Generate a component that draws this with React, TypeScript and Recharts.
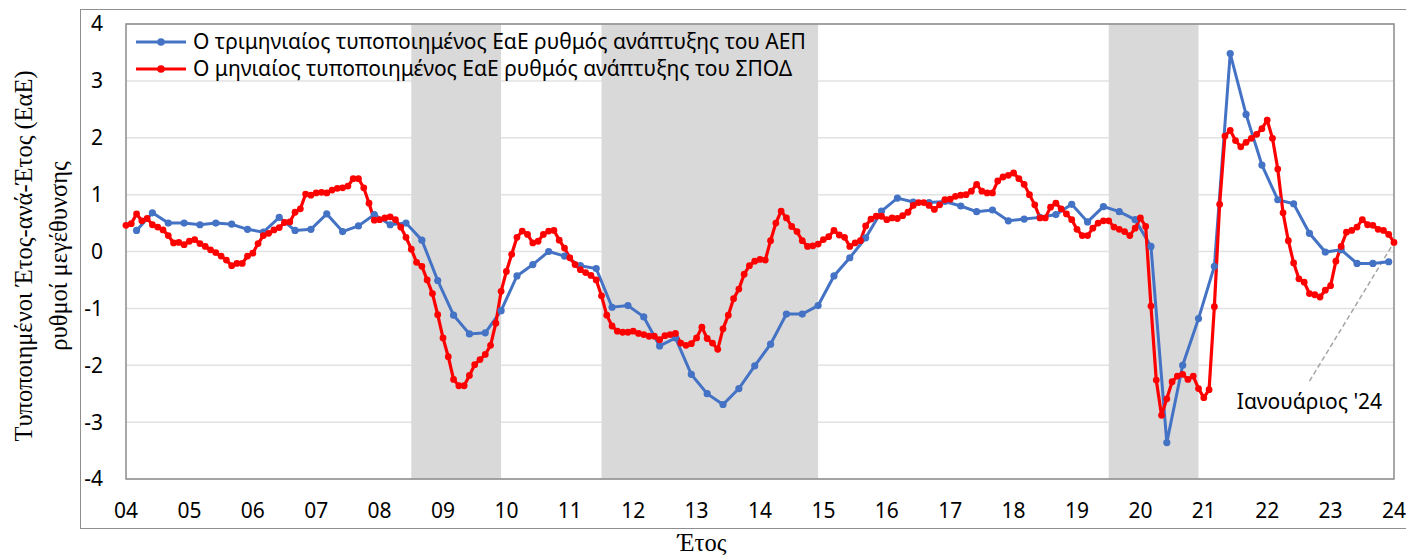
import React from 'react';
import {
  LineChart,
  Line,
  XAxis,
  YAxis,
  CartesianGrid,
  Legend,
  ReferenceArea,
  ReferenceLine,
  ReferenceDot,
} from 'recharts';

// Year labels on the x axis (Jan of each year, 2004..2024)
const yearLabels = ['04', '05', '06', '07', '08', '09', '10', '11', '12', '13', '14', '15', '16', '17', '18', '19', '20', '21', '22', '23', '24'];

// Monthly standardised YoY growth of the composite index, Jan 2004 .. Jan 2024
const monthlyGrowth = [
  0.46, 0.49, 0.66, 0.54, 0.58, 0.47, 0.43, 0.38, 0.28, 0.15, 0.16, 0.12,
  0.18, 0.21, 0.14, 0.09, 0.03, -0.02, -0.08, -0.15, -0.25, -0.21, -0.21, -0.08,
  -0.03, 0.14, 0.28, 0.32, 0.38, 0.42, 0.51, 0.52, 0.69, 0.75, 1.01, 0.99,
  1.03, 1.04, 1.03, 1.08, 1.11, 1.12, 1.15, 1.28, 1.28, 1.12, 0.85, 0.55,
  0.56, 0.59, 0.61, 0.56, 0.43, 0.25, 0.04, -0.19, -0.26, -0.5, -0.74, -1.11,
  -1.52, -1.85, -2.25, -2.36, -2.36, -2.18, -1.99, -1.9, -1.81, -1.65, -1.26, -0.7,
  -0.35, -0.05, 0.25, 0.36, 0.3, 0.15, 0.18, 0.3, 0.36, 0.37, 0.2, 0.06,
  -0.11, -0.23, -0.32, -0.37, -0.42, -0.5, -0.78, -1.12, -1.31, -1.4, -1.42, -1.42,
  -1.4, -1.44, -1.46, -1.49, -1.49, -1.55, -1.48, -1.46, -1.44, -1.61, -1.65, -1.62,
  -1.52, -1.33, -1.53, -1.61, -1.72, -1.36, -1.12, -0.83, -0.66, -0.4, -0.25, -0.17,
  -0.14, -0.15, 0.19, 0.5, 0.71, 0.59, 0.44, 0.35, 0.19, 0.09, 0.1, 0.13,
  0.21, 0.26, 0.37, 0.29, 0.25, 0.09, 0.15, 0.19, 0.45, 0.57, 0.62, 0.62,
  0.56, 0.59, 0.58, 0.63, 0.69, 0.81, 0.86, 0.86, 0.81, 0.74, 0.82, 0.91,
  0.92, 0.97, 0.99, 1.0, 1.06, 1.18, 1.06, 1.03, 1.03, 1.24, 1.31, 1.34,
  1.38, 1.28, 1.18, 1.0, 0.82, 0.59, 0.59, 0.78, 0.85, 0.75, 0.66, 0.56,
  0.39, 0.28, 0.28, 0.41, 0.5, 0.54, 0.54, 0.43, 0.39, 0.35, 0.28, 0.41,
  0.59, 0.44, -0.96, -2.26, -2.88, -2.59, -2.29, -2.19, -2.16, -2.25, -2.19, -2.41,
  -2.57, -2.43, -0.97, 0.83, 2.03, 2.13, 1.95, 1.84, 1.92, 1.99, 2.06, 2.16,
  2.31, 1.99, 1.45, 0.68, 0.19, -0.2, -0.48, -0.54, -0.74, -0.76, -0.8, -0.68,
  -0.6, -0.17, 0.09, 0.34, 0.37, 0.43, 0.56, 0.47, 0.46, 0.39, 0.37, 0.3,
  0.16,
];

// Quarterly standardised YoY GDP growth, 2004Q1 .. 2023Q4 (plotted on the quarter's last month)
const quarterlyGrowth = [
  0.37, 0.68, 0.5, 0.5, 0.47, 0.5, 0.48, 0.39, 0.34, 0.6, 0.37, 0.39,
  0.66, 0.35, 0.45, 0.65, 0.47, 0.5, 0.2, -0.51, -1.12, -1.45, -1.43, -1.04,
  -0.43, -0.23, 0.0, -0.08, -0.25, -0.3, -0.98, -0.95, -1.15, -1.66, -1.52, -2.16,
  -2.5, -2.69, -2.41, -2.01, -1.63, -1.1, -1.1, -0.95, -0.43, -0.11, 0.24, 0.71,
  0.94, 0.87, 0.86, 0.88, 0.8, 0.7, 0.73, 0.54, 0.57, 0.6, 0.65, 0.83,
  0.52, 0.79, 0.7, 0.56, 0.09, -3.36, -2.0, -1.18, -0.26, 3.48, 2.41, 1.52,
  0.91, 0.84, 0.32, -0.01, 0.03, -0.21, -0.21, -0.18,
];

// Shaded periods (month index from Jan 2004)
const recessions = [
  { from: 54, to: 71 },
  { from: 90, to: 131 },
  { from: 186, to: 203 },
];

const yTicks = [-4, -3, -2, -1, 0, 1, 2, 3, 4];

const seriesNames = {
  quarterly: 'Ο τριμηνιαίος τυποποιημένος ΕαΕ ρυθμός ανάπτυξης του ΑΕΠ',
  monthly: 'Ο μηνιαίος τυποποιημένος ΕαΕ ρυθμός ανάπτυξης του ΣΠΟΔ',
};
const legendOrder = [seriesNames.quarterly, seriesNames.monthly];

const BLUE = '#4472C4';
const RED = '#FF0000';
const SANS = '"Noto Sans", sans-serif';
const SERIF = '"Liberation Serif", serif';
const FS = 21;

const data = monthlyGrowth.map((v, i) => ({
  m: i,
  monthly: v,
  quarterly: (i - 2) % 3 === 0 && i >= 2 ? quarterlyGrowth[(i - 2) / 3] ?? null : null,
}));

const lastMonth = monthlyGrowth.length - 1;

function LegendBox({ payload }: any) {
  // keep the series order of the original (quarterly first)
  const items = [...(payload || [])].sort((a: any, b: any) => legendOrder.indexOf(a.value) - legendOrder.indexOf(b.value));
  return (
    <div style={{ fontFamily: SANS, fontSize: FS, color: '#000', lineHeight: '27px' }}>
      {items.map((p: any) => (
        <div key={p.value} style={{ display: 'flex', alignItems: 'center', whiteSpace: 'nowrap' }}>
          <svg width={50} height={12} style={{ marginRight: 7 }}>
            <line x1={0} y1={6} x2={50} y2={6} stroke={p.color} strokeWidth={3} />
            <circle cx={25} cy={6} r={3.8} fill={p.color} />
          </svg>
          <span>{p.value}</span>
        </div>
      ))}
    </div>
  );
}

function YTitle() {
  return (
    <g fontFamily={SERIF} fontSize={24.5} fill="#000">
      <text x={32} y={256} textAnchor="middle" transform="rotate(-90, 32, 256)">
        Τυποποιημένοι Έτος-ανά-Έτος (ΕαΕ)
      </text>
      <text x={67} y={256} textAnchor="middle" transform="rotate(-90, 67, 256)">
        ρυθμοί μεγέθυνσης
      </text>
    </g>
  );
}

export default function App() {
  return (
    <div style={{ position: 'absolute', left: 0, top: 0, width: 1406, height: 556, background: '#fff', overflow: 'hidden' }}>
      <div
        style={{
          position: 'absolute',
          left: 80,
          top: 9,
          width: 1360,
          height: 518,
          border: '1.5px solid #8f8f8f',
        }}
      />
      <div style={{ position: 'absolute', left: 0, top: 0 }}>
        <LineChart width={1406} height={556} data={data} margin={{ top: 24, right: 12, bottom: 17, left: 0 }}>
          <CartesianGrid horizontal vertical={false} stroke="#e2e2e2" strokeWidth={1.5} />
          {recessions.map((r) => (
            <ReferenceArea key={r.from} x1={r.from} x2={r.to} y1={-4} y2={4} fill="#d9d9d9" fillOpacity={1} stroke="none" />
          ))}
          <XAxis
            dataKey="m"
            type="number"
            domain={[0, lastMonth]}
            ticks={yearLabels.map((_, i) => i * 12)}
            tickFormatter={(v) => yearLabels[Math.round(Number(v) / 12)]}
            tick={{ fontSize: FS, fill: '#000', fontFamily: SANS }}
            tickLine={false}
            tickSize={0}
            tickMargin={24}
            axisLine={false}
            height={60}
            interval={0}
            label={{
              content: () => (
                <text x={702} y={551} textAnchor="middle" fontFamily={SERIF} fontSize={24.5} fill="#000">
                  Έτος
                </text>
              ),
            }}
          />
          <YAxis
            type="number"
            domain={[-4, 4]}
            ticks={yTicks}
            tick={{ fontSize: FS, fill: '#000', fontFamily: SANS }}
            tickLine={false}
            tickSize={0}
            tickMargin={23}
            axisLine={false}
            width={126}
            interval={0}
            label={{ content: () => <YTitle /> }}
          />
          <ReferenceArea x1={0} x2={lastMonth} y1={-4} y2={4} fill="none" stroke="#8c8c8c" strokeWidth={1.5} />
          <Legend
            layout="vertical"
            align="center"
            verticalAlign="middle"
            wrapperStyle={{ left: 136, top: 28, width: 'auto' }}
            content={<LegendBox />}
          />
          <ReferenceLine
            segment={[
              { x: 224, y: -2.28 },
              { x: lastMonth, y: monthlyGrowth[lastMonth] },
            ]}
            stroke="#a6a6a6"
            strokeWidth={1.5}
            strokeDasharray="5 3"
          />
          <ReferenceDot
            x={224}
            y={-2.64}
            r={0}
            fill="none"
            stroke="none"
            label={{ value: "Ιανουάριος '24", position: 'center', fontSize: FS, fill: '#000', fontFamily: SANS }}
          />
          <Line
            name={seriesNames.quarterly}
            dataKey="quarterly"
            type="linear"
            stroke={BLUE}
            strokeWidth={3}
            dot={{ r: 3.6, fill: BLUE, stroke: BLUE, strokeWidth: 0 }}
            activeDot={false}
            connectNulls
            isAnimationActive={false}
          />
          <Line
            name={seriesNames.monthly}
            dataKey="monthly"
            type="linear"
            stroke={RED}
            strokeWidth={3.2}
            dot={{ r: 3.4, fill: RED, stroke: RED, strokeWidth: 0 }}
            activeDot={false}
            isAnimationActive={false}
          />
        </LineChart>
      </div>
    </div>
  );
}
